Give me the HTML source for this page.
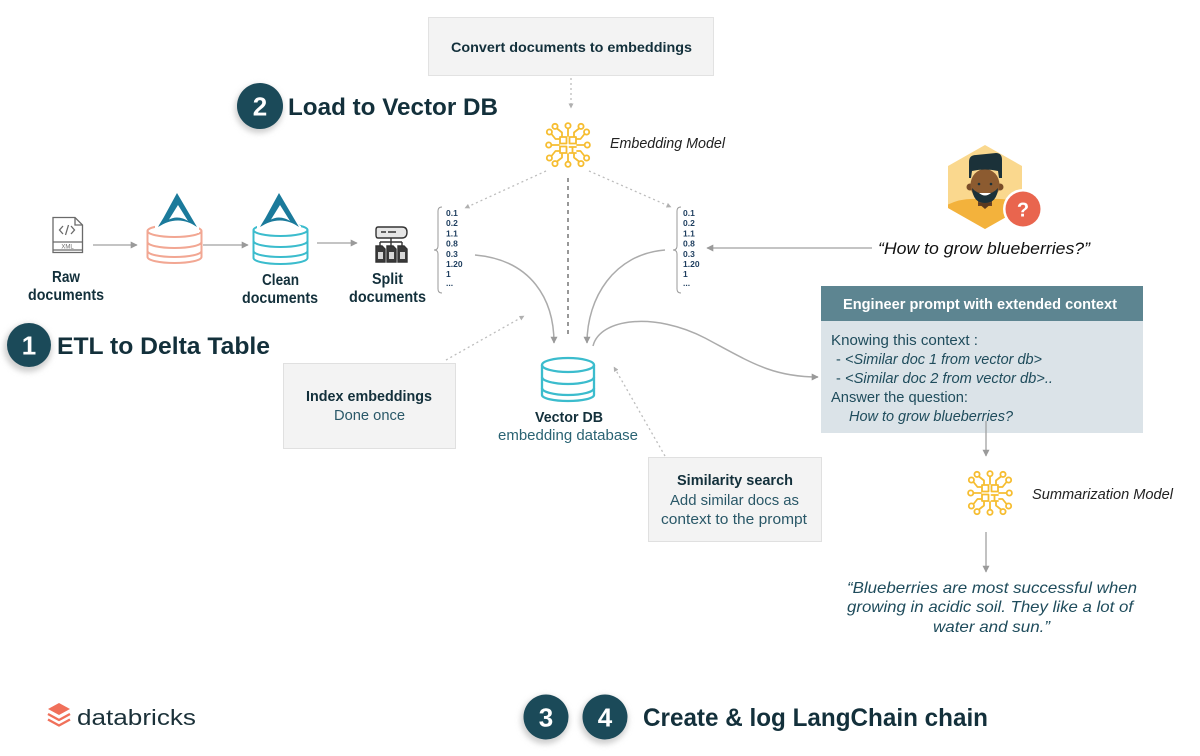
<!DOCTYPE html>
<html>
<head>
<meta charset="utf-8">
<style>
html,body{margin:0;padding:0;background:#fff;}
body{width:1200px;height:756px;overflow:hidden;}
svg{display:block;}
</style>
</head>
<body>
<svg width="1200" height="756" viewBox="0 0 1200 756" xmlns="http://www.w3.org/2000/svg" font-family="'Liberation Sans', sans-serif">
<defs>
  <marker id="ah" viewBox="0 0 10 10" refX="9" refY="5" markerUnits="userSpaceOnUse" markerWidth="7" markerHeight="7" orient="auto">
    <path d="M0,0 L10,5 L0,10 z" fill="#9a9a9a"/>
  </marker>
  <marker id="ahs" viewBox="0 0 10 10" refX="9" refY="5" markerUnits="userSpaceOnUse" markerWidth="5" markerHeight="5" orient="auto">
    <path d="M0,0 L10,5 L0,10 z" fill="#b0b0b0"/>
  </marker>
  <filter id="blur" x="-50%" y="-50%" width="200%" height="200%">
    <feGaussianBlur stdDeviation="3"/>
  </filter>
  <g id="pinside">
    <path d="M0,-9 V-16.5 M-6,-9 V-12.5 L-11,-16.5 M6,-9 V-12.5 L11,-16.5"/>
    <circle cx="0" cy="-19.3" r="2.6"/>
    <circle cx="-13" cy="-18.6" r="2.6"/>
    <circle cx="13" cy="-18.6" r="2.6"/>
  </g>
  <g id="chip" fill="none" stroke="#f6bd30" stroke-width="1.8" stroke-linecap="round" stroke-linejoin="round">
    <use href="#pinside"/>
    <use href="#pinside" transform="rotate(90)"/>
    <use href="#pinside" transform="rotate(180)"/>
    <use href="#pinside" transform="rotate(270)"/>
    <rect x="-8" y="-8" width="6.5" height="6.5"/>
    <rect x="1.5" y="-8" width="6.5" height="6.5"/>
    <rect x="-8" y="1.5" width="6.5" height="6.5"/>
    <path d="M1.5,2 H8 M4.5,2 V8 M1.5,8 H8"/>
  </g>
</defs>

<!-- ===== Convert documents box ===== -->
<rect x="428.5" y="17.5" width="285" height="58" fill="#f3f3f3" stroke="#e2e2e2"/>
<text x="451" y="52" font-size="14" font-weight="bold" fill="#13303b" textLength="241" lengthAdjust="spacingAndGlyphs">Convert documents to embeddings</text>
<line x1="571" y1="78" x2="571" y2="108" stroke="#bdbdbd" stroke-width="1.3" stroke-dasharray="2 3" marker-end="url(#ahs)"/>

<!-- ===== 2 Load to Vector DB ===== -->
<circle cx="259" cy="109" r="24" fill="#cfcfcf" filter="url(#blur)"/>
<circle cx="260" cy="106" r="23" fill="#1b4a59"/>
<text x="260" y="115.5" font-size="26" font-weight="bold" fill="#fff" text-anchor="middle">2</text>
<text x="288" y="115" font-size="24" font-weight="bold" fill="#13303b" textLength="210" lengthAdjust="spacingAndGlyphs">Load to Vector DB</text>

<!-- ===== Embedding model ===== -->
<use href="#chip" x="568" y="145"/>
<text x="610" y="148" font-size="15" font-style="italic" fill="#222" textLength="115" lengthAdjust="spacingAndGlyphs">Embedding Model</text>

<!-- dotted lines from embedding model -->
<line x1="546" y1="171" x2="465" y2="208" stroke="#bdbdbd" stroke-width="1.3" stroke-dasharray="2 3" marker-end="url(#ahs)"/>
<line x1="589" y1="171" x2="671" y2="207" stroke="#bdbdbd" stroke-width="1.3" stroke-dasharray="2 3" marker-end="url(#ahs)"/>
<line x1="568" y1="178" x2="568" y2="338" stroke="#777" stroke-width="1.5" stroke-dasharray="4 4"/>

<!-- ===== vector lists ===== -->
<g fill="none" stroke="#9a9a9a" stroke-width="1">
  <path d="M442,207 Q438,207 438,211 L438,246 Q438,250 434,250 Q438,250 438,254 L438,289 Q438,293 442,293"/>
  <path d="M681,207 Q677,207 677,211 L677,246 Q677,250 673,250 Q677,250 677,254 L677,289 Q677,293 681,293"/>
</g>
<g font-size="8.5" font-weight="bold" fill="#1d3d5e">
  <text x="446" y="216">0.1</text>
  <text x="446" y="226.2">0.2</text>
  <text x="446" y="236.4">1.1</text>
  <text x="446" y="246.6">0.8</text>
  <text x="446" y="256.8">0.3</text>
  <text x="446" y="267">1.20</text>
  <text x="446" y="277.2">1</text>
  <text x="446" y="286">...</text>
  <text x="683" y="216">0.1</text>
  <text x="683" y="226.2">0.2</text>
  <text x="683" y="236.4">1.1</text>
  <text x="683" y="246.6">0.8</text>
  <text x="683" y="256.8">0.3</text>
  <text x="683" y="267">1.20</text>
  <text x="683" y="277.2">1</text>
  <text x="683" y="286">...</text>
</g>

<!-- curves into vector DB -->
<g fill="none" stroke="#ababab" stroke-width="1.5">
  <path d="M475,255 C532,260 554,300 554,343" marker-end="url(#ah)"/>
  <path d="M665,250 C614,254 587,298 587,343" marker-end="url(#ah)"/>
  <path d="M593,346 C600,318 655,312 705,338 C750,362 772,377 818,377" marker-end="url(#ah)"/>
</g>

<!-- ===== Vector DB ===== -->
<g fill="none" stroke="#3bbccd" stroke-width="2.3">
  <ellipse cx="568" cy="365" rx="26" ry="7"/>
  <path d="M542,365 V395 M594,365 V395"/>
  <path d="M542,377 A26,7 0 0 0 594,377"/>
  <path d="M542,388 A26,7 0 0 0 594,388"/>
  <path d="M542,395 A26,6 0 0 0 594,395"/>
</g>
<text x="535" y="422" font-size="15" font-weight="bold" fill="#13303b" textLength="68" lengthAdjust="spacingAndGlyphs">Vector DB</text>
<text x="498" y="440" font-size="15" fill="#2a6373" textLength="140" lengthAdjust="spacingAndGlyphs">embedding database</text>

<!-- ===== Index embeddings box ===== -->
<rect x="283.5" y="363.5" width="172" height="85" fill="#f3f3f3" stroke="#e0e0e0"/>
<text x="306" y="401" font-size="14.5" font-weight="bold" fill="#13303b" textLength="126" lengthAdjust="spacingAndGlyphs">Index embeddings</text>
<text x="334" y="420" font-size="14.5" fill="#2a5868" textLength="71" lengthAdjust="spacingAndGlyphs">Done once</text>
<line x1="446" y1="360" x2="524" y2="316" stroke="#bdbdbd" stroke-width="1.3" stroke-dasharray="2 3" marker-end="url(#ahs)"/>

<!-- ===== Similarity search box ===== -->
<rect x="648.5" y="457.5" width="173" height="84" fill="#f3f3f3" stroke="#e0e0e0"/>
<text x="677" y="485" font-size="14.5" font-weight="bold" fill="#13303b" textLength="116" lengthAdjust="spacingAndGlyphs">Similarity search</text>
<text x="670" y="505" font-size="14.5" fill="#2a5868" textLength="129" lengthAdjust="spacingAndGlyphs">Add similar docs as</text>
<text x="661" y="524" font-size="14.5" fill="#2a5868" textLength="146" lengthAdjust="spacingAndGlyphs">context to the prompt</text>
<line x1="665" y1="456" x2="614" y2="367" stroke="#bdbdbd" stroke-width="1.3" stroke-dasharray="2 3" marker-end="url(#ahs)"/>

<!-- ===== Avatar ===== -->
<clipPath id="hexclip"><polygon points="985,145 1022,166 1022,208 985,229 948,208 948,166"/></clipPath>
<polygon points="985,145 1022,166 1022,208 985,229 948,208 948,166" fill="#fad88e"/>
<g clip-path="url(#hexclip)">
  <path d="M945,206 Q960,198 976,199 L994,199 Q1010,198 1025,206 L1025,232 L945,232 Z" fill="#f3b23c"/>
  <rect x="978" y="194" width="14" height="12" fill="#6b4426"/>
  <path d="M978,203 L985,209 L992,203 Z" fill="#5a3a20"/>
</g>
<circle cx="970" cy="187" r="3.5" fill="#7a4d28"/>
<circle cx="1000" cy="187" r="3.5" fill="#7a4d28"/>
<ellipse cx="985" cy="185" rx="14.5" ry="16" fill="#8c5b30"/>
<path d="M969,178 L969,162 Q969,155 976,155 L996,153 Q1002,153 1002,160 L1002,178 L999,178 L998,171 Q985,168 972,171 L971,178 Z" fill="#1b3139"/>
<path d="M972,188 Q973,203 985,203 Q997,203 998,188 Q993,194 985,194 Q977,194 972,188 Z" fill="#1b3139"/>
<path d="M979,193 Q985,198 991,193 Z" fill="#fff"/>
<circle cx="979" cy="184" r="1.3" fill="#1b3139"/>
<circle cx="991" cy="184" r="1.3" fill="#1b3139"/>
<circle cx="1023" cy="209" r="20" fill="#fff"/>
<circle cx="1023" cy="209" r="17.5" fill="#e9654e"/>
<text x="1023" y="216.5" font-size="20" font-weight="bold" fill="#fff" text-anchor="middle">?</text>

<!-- question -->
<line x1="872" y1="248" x2="707" y2="248" stroke="#a0a0a0" stroke-width="1.3" marker-end="url(#ah)"/>
<text x="878" y="254" font-size="17" font-style="italic" fill="#111" textLength="212" lengthAdjust="spacingAndGlyphs">“How to grow blueberries?”</text>

<!-- ===== Engineer prompt box ===== -->
<rect x="821" y="286" width="322" height="147" fill="#dbe3e8"/>
<rect x="821" y="286" width="322" height="35" fill="#5d8591"/>
<text x="843" y="309" font-size="14.5" font-weight="bold" fill="#fff" textLength="274" lengthAdjust="spacingAndGlyphs">Engineer prompt with extended context</text>
<g font-size="14.5" fill="#1f4c5c">
  <text x="831" y="345" textLength="147" lengthAdjust="spacingAndGlyphs">Knowing this context :</text>
  <text x="836" y="364">-</text>
  <text x="845" y="364" font-style="italic" textLength="197" lengthAdjust="spacingAndGlyphs">&lt;Similar doc 1 from vector db&gt;</text>
  <text x="836" y="383">-</text>
  <text x="845" y="383" font-style="italic" textLength="208" lengthAdjust="spacingAndGlyphs">&lt;Similar doc 2 from vector db&gt;..</text>
  <text x="831" y="402" textLength="137" lengthAdjust="spacingAndGlyphs">Answer the question:</text>
  <text x="849" y="421" font-style="italic" textLength="164" lengthAdjust="spacingAndGlyphs">How to grow blueberries?</text>
</g>
<line x1="986" y1="421" x2="986" y2="456" stroke="#a0a0a0" stroke-width="1.3" marker-end="url(#ah)"/>

<!-- ===== Summarization model ===== -->
<use href="#chip" x="990" y="493"/>
<text x="1032" y="499" font-size="15" font-style="italic" fill="#222" textLength="141" lengthAdjust="spacingAndGlyphs">Summarization Model</text>
<line x1="986" y1="532" x2="986" y2="572" stroke="#a0a0a0" stroke-width="1.3" marker-end="url(#ah)"/>

<g font-size="16" font-style="italic" fill="#1f4c5c">
  <text x="847" y="593" textLength="290" lengthAdjust="spacingAndGlyphs">“Blueberries are most successful when</text>
  <text x="847" y="612" textLength="286" lengthAdjust="spacingAndGlyphs">growing in acidic soil. They like a lot of</text>
  <text x="933" y="632" textLength="117" lengthAdjust="spacingAndGlyphs">water and sun.”</text>
</g>

<!-- ===== Left pipeline ===== -->
<!-- XML icon -->
<g fill="none" stroke="#6a6a6a" stroke-width="1.3">
  <path d="M53,217.5 H75 L82.5,225 V252.5 H53 Z"/>
  <path d="M75,217.5 V225 H82.5"/>
  <path d="M53,242 H82.5 M53,250 H82.5"/>
  <path d="M63,226 L59.5,230 L63,234 M71,226 L74.5,230 L71,234 M68.5,225 L65.5,235"/>
</g>
<text x="67.5" y="248.5" font-size="6" fill="#6a6a6a" text-anchor="middle">XML</text>
<text x="66" y="282" font-size="16" font-weight="bold" fill="#13303b" text-anchor="middle" textLength="28" lengthAdjust="spacingAndGlyphs">Raw</text>
<text x="28" y="300" font-size="16" font-weight="bold" fill="#13303b" textLength="76" lengthAdjust="spacingAndGlyphs">documents</text>

<line x1="93" y1="245" x2="137" y2="245" stroke="#a0a0a0" stroke-width="1.3" marker-end="url(#ah)"/>

<!-- pink DB -->
<g fill="none" stroke="#f2a793" stroke-width="2">
  <ellipse cx="174.5" cy="231" rx="27" ry="6"/>
  <path d="M147.5,231 V257 M201.5,231 V257"/>
  <path d="M147.5,242 A27,6 0 0 0 201.5,242"/>
  <path d="M147.5,251 A27,6 0 0 0 201.5,251"/>
  <path d="M147.5,257 A27,6 0 0 0 201.5,257"/>
</g>
<g transform="translate(177,193)">
  <path d="M-22,31 C-12,26 -4,24 4,25 C10,26 15,29 22,33 L22,40 L-22,40 Z" fill="#fff"/>
  <path d="M0,0 L20,34 C14,30 8,27.5 1,27.5 C-7,27.5 -12,30 -19,34 C-17,30 -14,26 -12,22 Z" fill="#1b7a9b"/>
  <path d="M1,12 L11,28 C8,26 4,24.5 0,24.5 C-3,24.5 -6,25.5 -8,26.5 Z" fill="#fff"/>
</g>

<line x1="203" y1="245" x2="248" y2="245" stroke="#a0a0a0" stroke-width="1.3" marker-end="url(#ah)"/>

<!-- teal DB -->
<g fill="none" stroke="#3bbccd" stroke-width="2">
  <ellipse cx="280.5" cy="230" rx="27" ry="6"/>
  <path d="M253.5,230 V258 M307.5,230 V258"/>
  <path d="M253.5,241 A27,6 0 0 0 307.5,241"/>
  <path d="M253.5,251 A27,6 0 0 0 307.5,251"/>
  <path d="M253.5,258 A27,6 0 0 0 307.5,258"/>
</g>
<g transform="translate(279,193)">
  <path d="M-22,31 C-12,26 -4,24 4,25 C10,26 15,29 22,33 L22,38 L-22,38 Z" fill="#fff"/>
  <path d="M0,0 L20,34 C14,30 8,27.5 1,27.5 C-7,27.5 -12,30 -19,34 C-17,30 -14,26 -12,22 Z" fill="#1b7a9b"/>
  <path d="M1,12 L11,28 C8,26 4,24.5 0,24.5 C-3,24.5 -6,25.5 -8,26.5 Z" fill="#fff"/>
</g>
<text x="262" y="285" font-size="16" font-weight="bold" fill="#13303b" textLength="37" lengthAdjust="spacingAndGlyphs">Clean</text>
<text x="242" y="303" font-size="16" font-weight="bold" fill="#13303b" textLength="76" lengthAdjust="spacingAndGlyphs">documents</text>

<line x1="317" y1="243" x2="357" y2="243" stroke="#a0a0a0" stroke-width="1.3" marker-end="url(#ah)"/>

<!-- split icon -->
<g stroke="#333" stroke-width="1.4" fill="none">
  <path d="M378,227 H402 Q407,227 407,232 Q407,238 402,238 H378 Q376,238 376,235 V230 Q376,227 378,227 Z" fill="#e6e6e6"/>
  <path d="M381,232 H386 M388,232 H396"/>
  <path d="M391,238 V242 M380,242 H402 M380,242 V246 M391,242 V246 M402,242 V246"/>
  <path d="M376,246 H382 L385,249 V262 H376 Z" fill="#3a3a3a"/>
  <path d="M387,246 H393 L396,249 V262 H387 Z" fill="#3a3a3a"/>
  <path d="M398,246 H404 L407,249 V262 H398 Z" fill="#3a3a3a"/>
</g>
<g fill="#d8d8d8">
  <rect x="378" y="252" width="5" height="7"/>
  <rect x="389" y="252" width="5" height="7"/>
  <rect x="400" y="252" width="5" height="7"/>
</g>
<text x="372" y="284" font-size="16" font-weight="bold" fill="#13303b" textLength="31" lengthAdjust="spacingAndGlyphs">Split</text>
<text x="349" y="302" font-size="16" font-weight="bold" fill="#13303b" textLength="77" lengthAdjust="spacingAndGlyphs">documents</text>

<!-- ===== 1 ETL ===== -->
<circle cx="28" cy="348" r="24" fill="#cfcfcf" filter="url(#blur)"/>
<circle cx="29" cy="345" r="22" fill="#1b4a59"/>
<text x="29" y="354.5" font-size="26" font-weight="bold" fill="#fff" text-anchor="middle">1</text>
<text x="57" y="354" font-size="24" font-weight="bold" fill="#13303b" textLength="213" lengthAdjust="spacingAndGlyphs">ETL to Delta Table</text>

<!-- ===== databricks logo ===== -->
<g fill="#f0705a">
  <path d="M59,703 L70,709 L59,715 L48,709 Z"/>
</g>
<g fill="none" stroke="#f0705a" stroke-width="2.4" stroke-linejoin="round">
  <path d="M48,714 L59,720 L70,714"/>
  <path d="M48,719.5 L59,725.5 L70,719.5"/>
</g>
<text x="77" y="725" font-size="22" fill="#1b3139" textLength="119" lengthAdjust="spacingAndGlyphs">databricks</text>

<!-- ===== 3 4 Create ===== -->
<circle cx="545" cy="720" r="24" fill="#cfcfcf" filter="url(#blur)"/>
<circle cx="546" cy="717" r="22.5" fill="#1b4a59"/>
<text x="546" y="726.5" font-size="26" font-weight="bold" fill="#fff" text-anchor="middle">3</text>
<circle cx="604" cy="720" r="24" fill="#cfcfcf" filter="url(#blur)"/>
<circle cx="605" cy="717" r="22.5" fill="#1b4a59"/>
<text x="605" y="726.5" font-size="26" font-weight="bold" fill="#fff" text-anchor="middle">4</text>
<text x="643" y="726" font-size="25" font-weight="bold" fill="#13303b" textLength="345" lengthAdjust="spacingAndGlyphs">Create &amp; log LangChain chain</text>

</svg>
</body>
</html>
